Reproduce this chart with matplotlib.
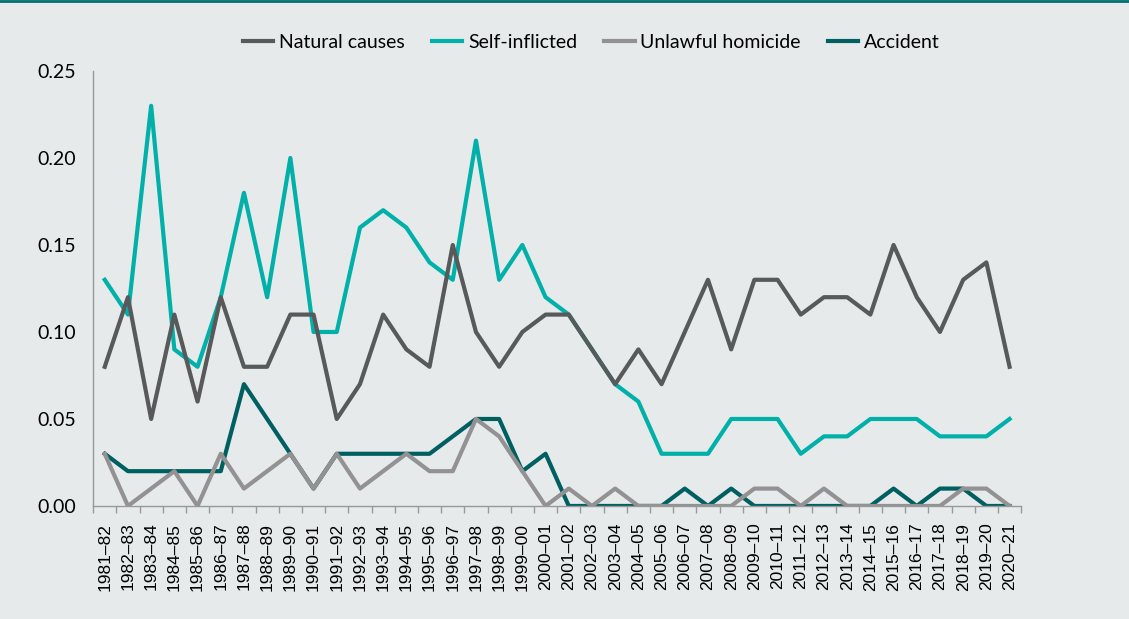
import matplotlib
matplotlib.use("Agg")
import matplotlib.pyplot as plt
from matplotlib.lines import Line2D
import numpy as np

years = ["1981–82", "1982–83", "1983–84", "1984–85", "1985–86", "1986–87", "1987–88",
         "1988–89", "1989–90", "1990–91", "1991–92", "1992–93", "1993–94", "1994–95",
         "1995–96", "1996–97", "1997–98", "1998–99", "1999–00", "2000–01", "2001–02",
         "2002–03", "2003–04", "2004–05", "2005–06", "2006–07", "2007–08", "2008–09",
         "2009–10", "2010–11", "2011–12", "2012–13", "2013–14", "2014–15", "2015–16",
         "2016–17", "2017–18", "2018–19", "2019–20", "2020–21"]

natural = [0.08, 0.12, 0.05, 0.11, 0.06, 0.12, 0.08, 0.08, 0.11, 0.11,
           0.05, 0.07, 0.11, 0.09, 0.08, 0.15, 0.10, 0.08, 0.10, 0.11,
           0.11, 0.09, 0.07, 0.09, 0.07, 0.10, 0.13, 0.09, 0.13, 0.13,
           0.11, 0.12, 0.12, 0.11, 0.15, 0.12, 0.10, 0.13, 0.14, 0.08]
self_inflicted = [0.13, 0.11, 0.23, 0.09, 0.08, 0.12, 0.18, 0.12, 0.20, 0.10,
                  0.10, 0.16, 0.17, 0.16, 0.14, 0.13, 0.21, 0.13, 0.15, 0.12,
                  0.11, 0.09, 0.07, 0.06, 0.03, 0.03, 0.03, 0.05, 0.05, 0.05,
                  0.03, 0.04, 0.04, 0.05, 0.05, 0.05, 0.04, 0.04, 0.04, 0.05]
homicide = [0.03, 0.00, 0.01, 0.02, 0.00, 0.03, 0.01, 0.02, 0.03, 0.01,
            0.03, 0.01, 0.02, 0.03, 0.02, 0.02, 0.05, 0.04, 0.02, 0.00,
            0.01, 0.00, 0.01, 0.00, 0.00, 0.00, 0.00, 0.00, 0.01, 0.01,
            0.00, 0.01, 0.00, 0.00, 0.00, 0.00, 0.00, 0.01, 0.01, 0.00]
accident = [0.03, 0.02, 0.02, 0.02, 0.02, 0.02, 0.07, 0.05, 0.03, 0.01,
            0.03, 0.03, 0.03, 0.03, 0.03, 0.04, 0.05, 0.05, 0.02, 0.03,
            0.00, 0.00, 0.00, 0.00, 0.00, 0.01, 0.00, 0.01, 0.00, 0.00,
            0.00, 0.00, 0.00, 0.00, 0.01, 0.00, 0.01, 0.01, 0.00, 0.00]

bg = "#e6eaeb"
label_font = ["Lato", "DejaVu Sans"]

fig = plt.figure(figsize=(11.29, 6.19), dpi=100, facecolor=bg)
ax = fig.add_axes([0.0825, 0.1826, 0.822, 0.7027])
ax.set_facecolor(bg)

x = np.arange(len(years))
ax.plot(x, natural, color="#58595b", lw=3, label="Natural causes", zorder=4)
ax.plot(x, self_inflicted, color="#00b0a9", lw=3, label="Self-inflicted", zorder=3)
ax.plot(x, homicide, color="#939191", lw=3, label="Unlawful homicide", zorder=2)
ax.plot(x, accident, color="#005f61", lw=3, label="Accident", zorder=1)

ax.set_xlim(-0.5, len(years) - 0.5)
ax.set_ylim(0, 0.25)
ax.set_yticks([0, 0.05, 0.10, 0.15, 0.20, 0.25])
ax.set_yticklabels(["0.00", "0.05", "0.10", "0.15", "0.20", "0.25"],
                   family=label_font, fontsize=14)
ax.tick_params(axis="y", length=0, pad=12)

ax.set_xticks(x)
ax.set_xticklabels(years, rotation=90, family=["Liberation Sans"], fontsize=12.5)
ax.tick_params(axis="x", which="major", length=0, pad=12)
ax.set_xticks(np.arange(-0.5, len(years)), minor=True)
ax.tick_params(axis="x", which="minor", length=5, color="#999999", width=1)

for s in ["top", "right"]:
    ax.spines[s].set_visible(False)
for s in ["left", "bottom"]:
    ax.spines[s].set_color("#999999")
    ax.spines[s].set_linewidth(1)

leg = ax.legend(loc="center", bbox_to_anchor=(0.537, 1.066), ncol=4, frameon=False,
                prop={"family": label_font, "size": 14}, handlelength=1.55,
                handletextpad=0.3, columnspacing=1.4)

fig.add_artist(Line2D([0, 1], [0.999, 0.999], transform=fig.transFigure,
                      color="#006d6f", lw=2))

fig.savefig("out.png", dpi=100, facecolor=bg)
